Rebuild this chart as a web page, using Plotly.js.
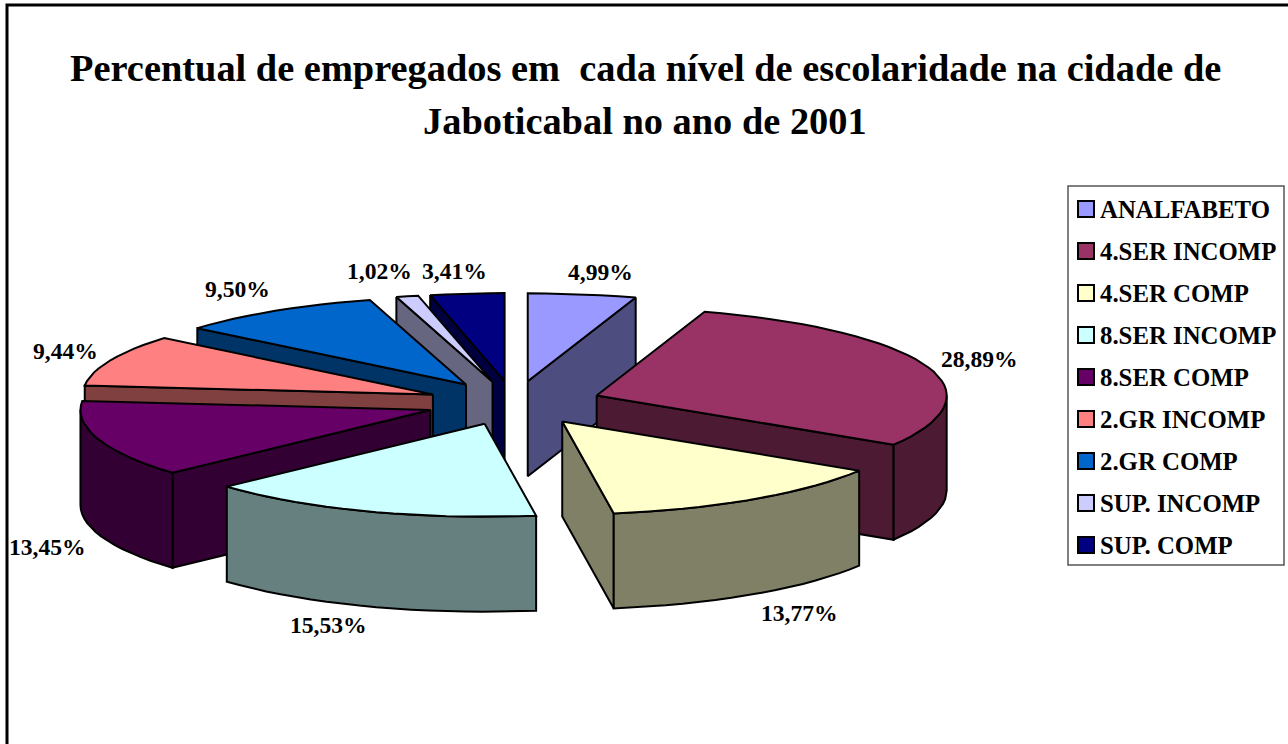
<!DOCTYPE html>
<html><head><meta charset="utf-8">
<script src="https://cdn.plot.ly/plotly-3.0.1.min.js"></script>
<style>html,body{margin:0;padding:0;background:#fff}#c{width:1288px;height:744px}</style>
</head><body><div id="c"></div>
<script>
const categories = ["ANALFABETO","4.SER INCOMP","4.SER COMP","8.SER INCOMP","8.SER COMP","2.GR INCOMP","2.GR COMP","SUP. INCOMP","SUP. COMP"];
const percentages = [4.99,28.89,13.77,15.53,13.45,9.44,9.50,1.02,3.41];
const topColors = ["#9999ff","#993366","#ffffcc","#ccffff","#660066","#ff8080","#0066cc","#ccccff","#000080"];
const sideColors = ["#4d4d80","#4d1a33","#808066","#668080","#330033","#804040","#003366","#666680","#000040"];
const labelNudges = [[18.5,-22],[54,-6],[45,114],[-39,114],[-51,108],[-45,-9],[-38,-22],[-28,-25],[-13,-23]];
const titleLines = ["Percentual de empregados em\u00a0 cada nível de escolaridade na cidade de","Jaboticabal no ano de 2001"];

// projection of the tilted pie onto the page (pixels)
const CX=514, CY=403, RX=350, RY_BACK=88, RY_FRONT=93, EX=88, EY=22, DEPTH=95;
const FONT="Liberation Serif, Times New Roman, serif", INK="#000";
const rad=a=>a*Math.PI/180;
const total=percentages.reduce((a,b)=>a+b,0);
const fmt=v=>v.toFixed(2).replace(".",",")+"%";

let cum=0;
const slices=percentages.map((p,i)=>{
  const a0=cum/total*360; cum+=p; const a1=cum/total*360; const m=(a0+a1)/2;
  const ax=CX+EX*Math.sin(rad(m)), ay=CY-EY*Math.cos(rad(m));
  const pt=a=>{const c=Math.cos(rad(a)); return [ax+RX*Math.sin(rad(a)), ay-(c>0?RY_BACK:RY_FRONT)*c];};
  const arc=[]; const n=Math.max(2,Math.ceil((a1-a0)/3));
  for(let k=0;k<=n;k++) arc.push(a0+(a1-a0)*k/n);
  return {i,a0,a1,m,ax,ay,pt,arc};
});

function poly(pts,fill,name,hover){
  const xs=pts.map(p=>p[0]), ys=pts.map(p=>p[1]);
  xs.push(xs[0]); ys.push(ys[0]);
  return {type:"scatter",mode:"lines",x:xs,y:ys,fill:"toself",fillcolor:fill,
    line:{color:INK,width:2,shape:"linear"},name:name,showlegend:false,
    hoveron:"fills",text:hover,hoverinfo:hover?"text":"skip"};
}

const traces=[];
// back slices first, so nearer ones cover them
[...slices].sort((s,t)=>s.ay-t.ay).forEach(s=>{
  const down=p=>[p[0],p[1]+DEPTH];
  const name=categories[s.i];
  const A=[s.ax,s.ay], P0=s.pt(s.a0), P1=s.pt(s.a1);
  // a radial wall shows when its outward side faces the viewer
  if(Math.sin(rad(s.a0))<0) traces.push(poly([A,P0,down(P0),down(A)],sideColors[s.i],name));
  if(Math.sin(rad(s.a1))>0) traces.push(poly([A,P1,down(P1),down(A)],sideColors[s.i],name));
  // outer rim: only the part on the near half
  const lo=Math.max(s.a0,90), hi=Math.min(s.a1,270);
  if(hi>lo){
    const angs=[lo,...s.arc.filter(a=>a>lo&&a<hi),hi];
    const up=angs.map(s.pt), dn=angs.map(a=>down(s.pt(a))).reverse();
    traces.push(poly([...up,...dn],sideColors[s.i],name));
  }
  traces.push(poly([A,...s.arc.map(s.pt)],topColors[s.i],name,name+": "+fmt(percentages[s.i])));
});

const annotations=[], shapes=[];
const label=(x,y,text,size,xanchor)=>({xref:"x",yref:"y",x,y,text:"<b>"+text+"</b>",showarrow:false,
  xanchor:xanchor||"center",yanchor:"middle",font:{family:FONT,size:size,color:INK},align:"center"});

slices.forEach(s=>{
  const r=s.pt(s.m), n=labelNudges[s.i];
  annotations.push(label(r[0]+n[0],r[1]+n[1],fmt(percentages[s.i]),23.6));
});
titleLines.forEach((t,k)=>annotations.push(label(645,68+k*52.5,t,38.4)));

// frame and legend
shapes.push({type:"rect",xref:"x",yref:"y",x0:7,y0:5,x1:1295,y1:755,line:{color:INK,width:3},fillcolor:"rgba(0,0,0,0)",layer:"below"});
shapes.push({type:"rect",xref:"x",yref:"y",x0:1068,y0:186,x1:1284,y1:565,line:{color:"#555",width:1.5},fillcolor:"#fff",layer:"below"});
categories.forEach((c,i)=>{
  const y=209+i*42;
  shapes.push({type:"rect",xref:"x",yref:"y",x0:1078,x1:1094,y0:y-8,y1:y+8,line:{color:INK,width:2},fillcolor:topColors[i],layer:"above"});
  annotations.push(label(1098,y,c,24.8,"left"));
});

Plotly.newPlot("c",traces,{
  width:1288,height:744,margin:{l:0,r:0,t:0,b:0},paper_bgcolor:"#fff",plot_bgcolor:"#fff",
  showlegend:false,hovermode:"closest",
  xaxis:{range:[0,1288],visible:false,fixedrange:true},
  yaxis:{range:[744,0],visible:false,fixedrange:true},
  shapes,annotations
},{displayModeBar:false});
</script></body></html>
